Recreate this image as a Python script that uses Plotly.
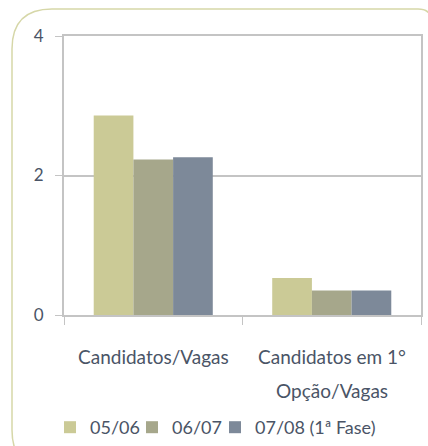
import plotly.graph_objects as go

categorias = ['Candidatos/Vagas', 'Candidatos em 1° Opção/Vagas']
rotulos = [['Candidatos/Vagas'], ['Candidatos em 1°', 'Opção/Vagas']]
series = ['05/06', '06/07', '07/08 (1ª Fase)']
valores = {
    '05/06': [2.86, 0.53],
    '06/07': [2.23, 0.35],
    '07/08 (1ª Fase)': [2.26, 0.35],
}
cores = ['#CBCA96', '#A6A78B', '#7D8999']

W, H = 428, 446
ml, mr, mt, mb = 64, 7, 36, 131
pw, ph = W - ml - mr, H - mt - mb


def px(x, y):
    # pixel -> paper
    return (x - ml) / pw, (H - mb - y) / ph


cor_texto = '#4A5466'
fonte = dict(family='Lato, "Gill Sans", sans-serif', size=17, color=cor_texto)

fig = go.Figure()
legendas = {}
for k, (s, cor, xleg) in enumerate(zip(series, cores, [50, 132, 215])):
    nome = 'legend' if k == 0 else f'legend{k+1}'
    fig.add_trace(go.Bar(
        x=categorias, y=valores[s], name=s, legend=nome,
        marker=dict(color=cor, line=dict(width=0)),
    ))
    lx, ly = px(xleg, 409)
    legendas[nome] = dict(orientation='h', x=lx, xanchor='left', y=ly, yanchor='top',
                          font=dict(size=18, color=cor_texto), itemwidth=30,
                          bgcolor='rgba(0,0,0,0)')

# moldura arredondada
x0, y0 = px(12, 9)
x1, y1 = px(432, 470)
r = 40 / pw
ry = 40 / ph
r2 = 14 / pw
ry2 = 14 / ph
caminho = (f'M {x0+r},{y0} L {x1-r2},{y0} Q {x1},{y0} {x1},{y0-ry2} L {x1},{y1} '
           f'L {x0+r},{y1} Q {x0},{y1} {x0},{y1+ry} L {x0},{y0-ry} Q {x0},{y0} {x0+r},{y0} Z')
fig.add_shape(type='path', path=caminho, xref='paper', yref='paper',
              line=dict(color='#D6D7A8', width=1.5), layer='below')

# rótulos das categorias
for cat, linhas in zip(categorias, rotulos):
    for i, linha in enumerate(linhas):
        fig.add_annotation(x=cat, xref='x', y=px(0, 356 + 34 * i)[1], yref='paper',
                           text=linha, showarrow=False, yanchor='middle',
                           font=dict(size=19, color=cor_texto))

fig.update_layout(
    width=W, height=H,
    margin=dict(l=ml, r=mr, t=mt, b=mb, autoexpand=False),
    paper_bgcolor='white', plot_bgcolor='white',
    barmode='group', bargap=0.333, bargroupgap=0,
    font=fonte,
    showlegend=True,
    xaxis=dict(showline=True, linecolor='#C4C4C4', linewidth=2, mirror=True,
               ticks='outside', tickson='boundaries', ticklen=8, tickcolor='#C4C4C4',
               showgrid=False, showticklabels=False, automargin=False),
    yaxis=dict(range=[0, 4], tickvals=[0, 2, 4], showline=True, linecolor='#C4C4C4',
               linewidth=2, mirror=True, ticks='outside', ticklen=7, tickcolor='#C4C4C4',
               gridcolor='#C4C4C4', gridwidth=1.5, zeroline=False, ticklabelstandoff=8,
               automargin=False),
    **legendas,
)

fig.write_html('out.html', config={'displayModeBar': False},
               post_script="document.body.style.margin='0';")
